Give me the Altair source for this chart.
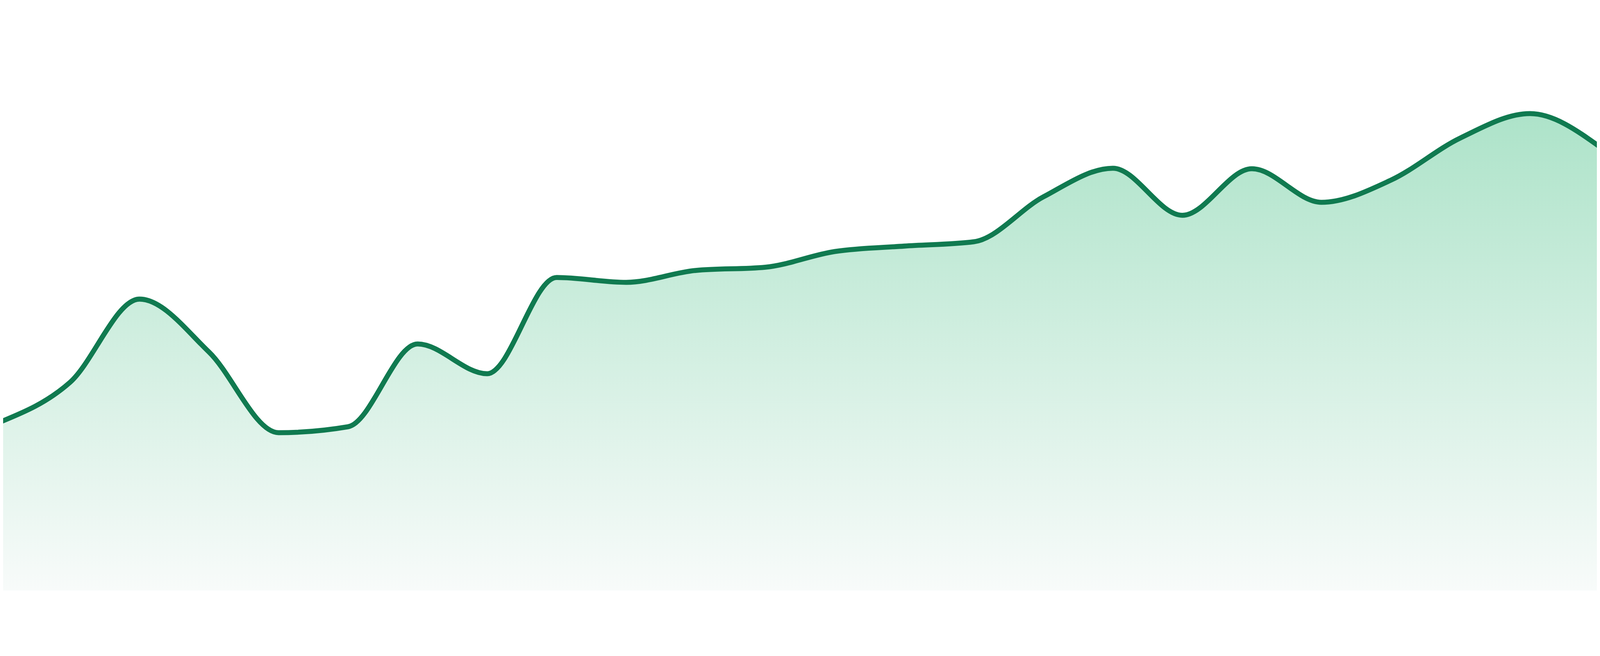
import altair as alt
import pandas as pd

# data (index along x, value on y)
idx = list(range(24))
values = [31.2, 38.5, 53.9, 44.1, 29.2, 30.3, 45.6, 40.1, 57.9, 57.0, 59.2, 59.8,
          62.7, 63.7, 64.5, 72.8, 78.1, 69.4, 78.0, 71.8, 75.9, 83.7, 88.2, 82.1]

df = pd.DataFrame({"i": idx, "v": values})

xs = alt.Scale(domain=[0.0383, 22.9617], nice=False, zero=False)
ys = alt.Scale(domain=[0, 100], nice=False)

base = alt.Chart(df).encode(
    x=alt.X("i:Q", scale=xs, axis=None),
    y=alt.Y("v:Q", scale=ys, axis=None),
)

area = base.mark_area(
    interpolate="monotone",
    clip=True,
    color=alt.Gradient(
        gradient="linear",
        stops=[alt.GradientStop(color="#ade3c9", offset=0),
               alt.GradientStop(color="#f8fbfa", offset=1)],
        x1=0, x2=0, y1=0, y2=1,
    ),
)

line = base.mark_line(interpolate="monotone", clip=True, color="#107a50", strokeWidth=15)

chart = (area + line).properties(width=4784, height=1624, padding=0, autosize="none").configure_view(stroke=None)

chart.save("out.html", embed_options={"renderer": "svg", "actions": False})
